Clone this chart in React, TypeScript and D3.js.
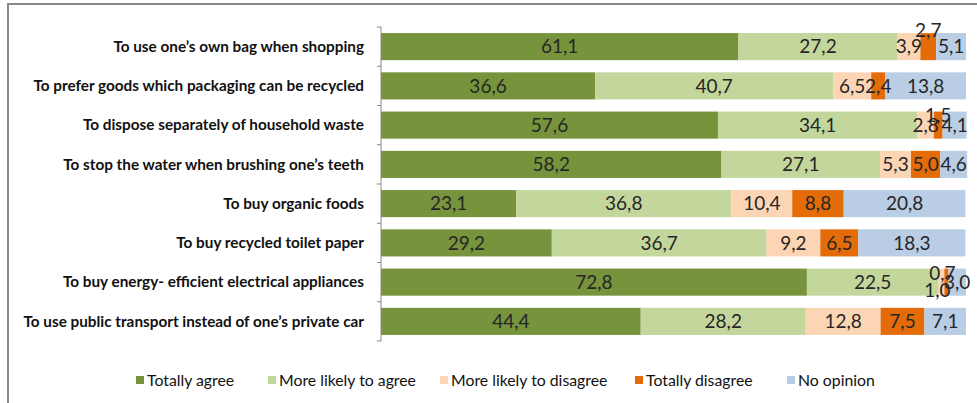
import React from "react";
import * as d3 from "d3";

const categories = [
  "To use one’s own bag when shopping",
  "To prefer goods which packaging can be recycled",
  "To dispose separately of household waste",
  "To stop the water when brushing one’s teeth",
  "To buy organic foods",
  "To buy recycled toilet paper",
  "To buy energy- efficient electrical appliances",
  "To use public transport instead of one’s private car",
];

const seriesNames = [
  "Totally agree",
  "More likely to agree",
  "More likely to disagree",
  "Totally disagree",
  "No opinion",
];

const totallyAgree = [61.1, 36.6, 57.6, 58.2, 23.1, 29.2, 72.8, 44.4];
const likelyAgree = [27.2, 40.7, 34.1, 27.1, 36.8, 36.7, 22.5, 28.2];
const likelyDisagree = [3.9, 6.5, 2.8, 5.3, 10.4, 9.2, 1.0, 12.8];
const totallyDisagree = [2.7, 2.4, 1.5, 5.0, 8.8, 6.5, 0.7, 7.5];
const noOpinion = [5.1, 13.8, 4.1, 4.6, 20.8, 18.3, 3.0, 7.1];

const seriesValues = [totallyAgree, likelyAgree, likelyDisagree, totallyDisagree, noOpinion];

const colors = ["#77933C", "#C3D69B", "#FCD5B5", "#E36C09", "#B9CDE5"];

// label nudges (series index, row index) -> [dx, dy], layout only
const labelNudges: Record<string, [number, number]> = {
  "3-0": [0, -16],
  "3-2": [0, -10],
  "2-6": [-4, 8],
  "3-6": [-4, -9],
};

const legendX = [136, 268, 440, 635, 787];

export default function App() {
  const W = 977;
  const H = 403;
  const x = d3.scaleLinear().domain([0, 100]).range([381, 966]);
  const y = d3
    .scaleBand<number>()
    .domain(d3.range(categories.length))
    .range([27, 341])
    .paddingInner(0.31)
    .paddingOuter(0.155);

  const rows = categories.map((c, i) => {
    const obj: any = { i };
    seriesNames.forEach((s, k) => (obj[s] = seriesValues[k][i]));
    return obj;
  });
  const stacked = d3.stack<any>().keys(seriesNames)(rows);
  const fmt = (v: number) => v.toFixed(1).replace(".", ",");
  const step = y.step();

  return (
    <svg
      width={W}
      height={H}
      style={{ position: "absolute", left: 0, top: 0, background: "#fff" }}
    >
      <rect x={8} y={4} width={1100} height={600} fill="#fff" stroke="#888" strokeWidth={2} />
      {stacked.map((layer, k) =>
        layer.map((d, i) => {
          const x0 = x(d[0]);
          const x1 = x(d[1]);
          const yy = y(i)!;
          return (
            <rect
              key={`b-${k}-${i}`}
              x={x0}
              y={yy}
              width={x1 - x0}
              height={y.bandwidth()}
              fill={colors[k]}
            />
          );
        })
      )}
      {stacked.map((layer, k) =>
        layer.map((d, i) => {
          const nudge = labelNudges[`${k}-${i}`] || [0, 0];
          const cx = (x(d[0]) + x(d[1])) / 2 + nudge[0];
          const cy = y(i)! + y.bandwidth() / 2 + nudge[1];
          return (
            <text
              key={`l-${k}-${i}`}
              x={cx}
              y={cy}
              dy="0.36em"
              textAnchor="middle"
              fontFamily="Lato, 'Noto Sans', sans-serif"
              fontSize={19}
              fill="#262626"
            >
              {fmt(seriesValues[k][i])}
            </text>
          );
        })
      )}
      {/* axis */}
      <line x1={381} x2={381} y1={27} y2={341} stroke="#888" strokeWidth={1} />
      {d3.range(categories.length + 1).map((j) => (
        <line
          key={`t-${j}`}
          x1={377}
          x2={381}
          y1={27 + j * step}
          y2={27 + j * step}
          stroke="#888"
          strokeWidth={1}
        />
      ))}
      {categories.map((c, i) => (
        <text
          key={`c-${i}`}
          x={364}
          y={y(i)! + y.bandwidth() / 2}
          dy="0.35em"
          textAnchor="end"
          fontFamily="Lato, 'Noto Sans', sans-serif"
          fontWeight={700}
          fontSize={15.3}
          fill="#111"
        >
          {c}
        </text>
      ))}
      {seriesNames.map((s, k) => (
        <g key={`lg-${k}`}>
          <rect x={legendX[k]} y={376} width={8} height={8} fill={colors[k]} />
          <text
            x={legendX[k] + 11}
            y={380}
            dy="0.36em"
            fontFamily="Lato, 'Noto Sans', sans-serif"
            fontSize={15.8}
            fill="#111"
          >
            {s}
          </text>
        </g>
      ))}
    </svg>
  );
}
